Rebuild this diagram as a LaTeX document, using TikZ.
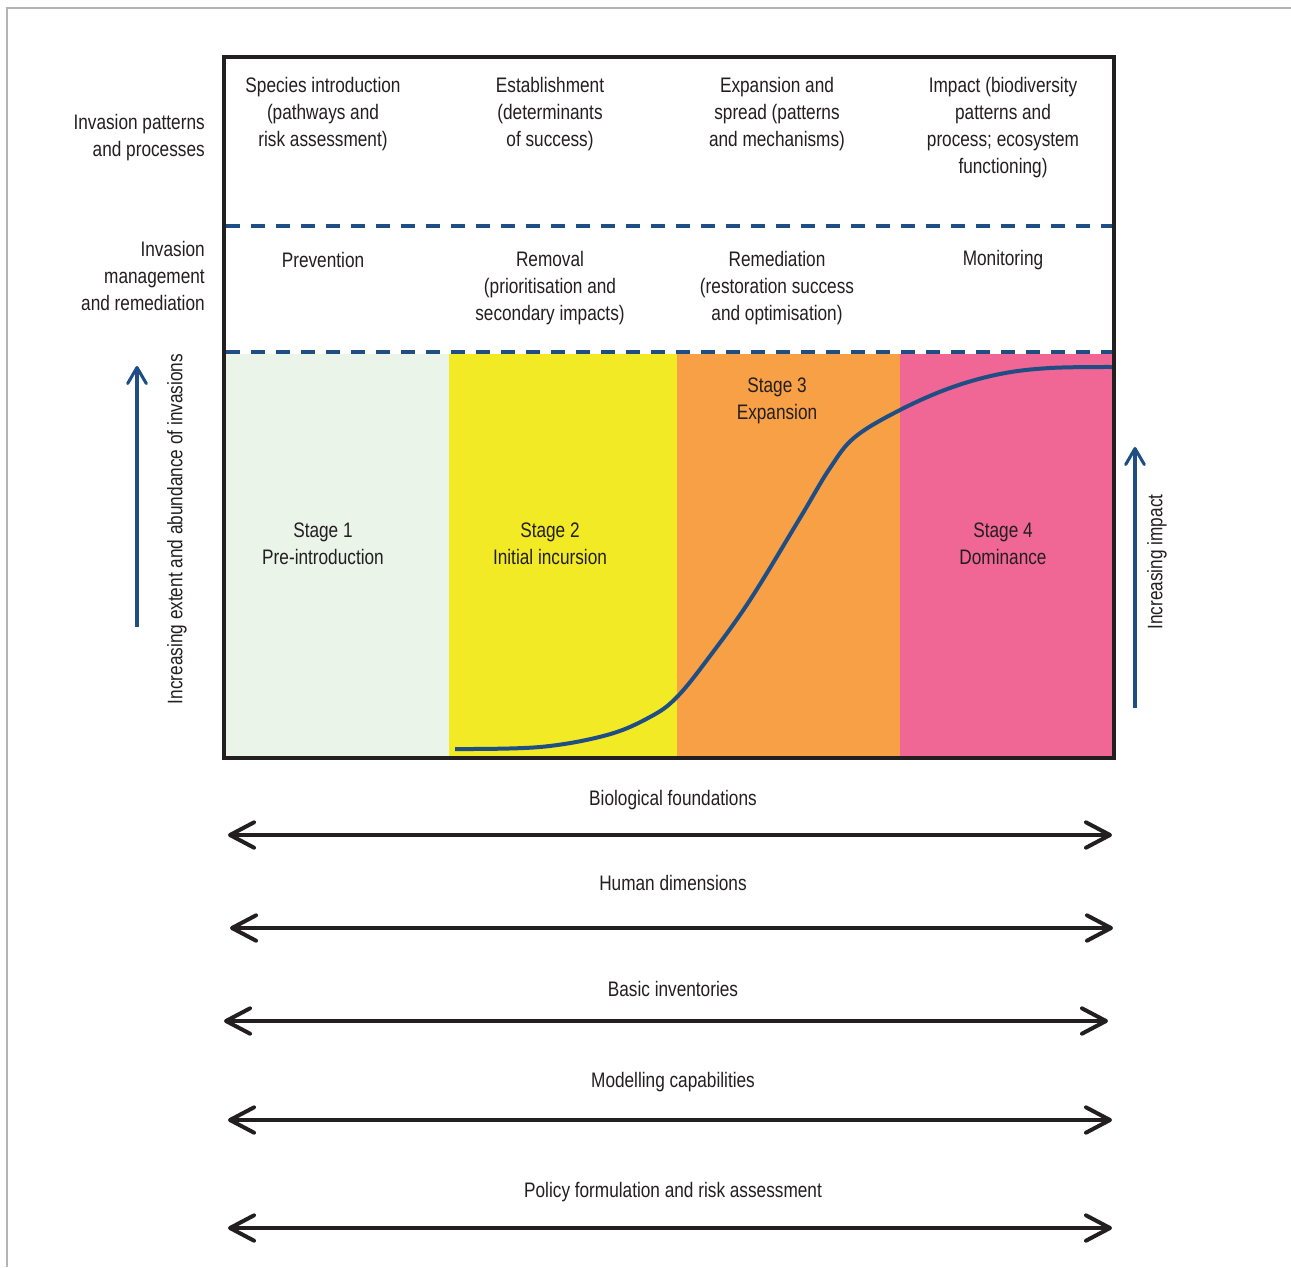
\documentclass[tikz,border=0pt]{standalone}
\usepackage{fontspec}
\setmainfont{Liberation Sans}[FakeStretch=0.82]
\usetikzlibrary{arrows.meta}
\definecolor{ink}{HTML}{231F20}
\definecolor{navy}{HTML}{1F4E85}
\definecolor{sgreen}{HTML}{EAF4E9}
\definecolor{syellow}{HTML}{F2EA25}
\definecolor{sorange}{HTML}{F7A046}
\definecolor{spink}{HTML}{F06694}
\definecolor{framegray}{HTML}{B4B4B4}
\begin{document}
\begin{tikzpicture}[x=0.75pt,y=-0.75pt,
  lbl/.style={text=ink,inner sep=0pt,align=center,font=\fontsize{15.75}{20.25}\selectfont},
  lblr/.style={lbl,align=right,anchor=east},
  dashline/.style={navy,line width=2.6pt,dash pattern=on 10.5pt off 8.25pt},
  dblarrow/.style={ink,line width=3pt,{Straight Barb[length=18pt,width=19pt,line cap=round,line join=round]}-{Straight Barb[length=18pt,width=19pt,line cap=round,line join=round]}},
  uparrow/.style={navy,line width=2.3pt,-{Straight Barb[length=12pt,width=14pt,line cap=round,line join=round]}}]
\useasboundingbox (0,0) rectangle (1291,1267);
\fill[white] (0,0) rectangle (1291,1267);
% outer frame
\draw[framegray,line width=1.2pt] (7,1267) -- (7,8) -- (1291,8);
% bands
\fill[sgreen] (226,354) rectangle (449,756);
\fill[syellow] (449,354) rectangle (677,756);
\fill[sorange] (677,354) rectangle (900,756);
\fill[spink] (900,354) rectangle (1112,756);
% dashed separators
\coordinate (d1a) at (226,226); \coordinate (d1b) at (1112,226);
\coordinate (d2a) at (226,352); \coordinate (d2b) at (1112,352);
\draw[dashline] (d1a) -- (d1b);
\draw[dashline] (d2a) -- (d2b);
% curve
\draw[navy,line width=3pt,line cap=butt] plot[smooth,tension=0.6] coordinates {(455,749) (540,747) (607,735) (650,717) (677,697) (710,656) (750,600) (800,518) (830,468) (855,437) (900,410) (950,388) (1000,374) (1050,368) (1112,367)};
% main box
\draw[ink,line width=3pt] (224,57) rectangle (1114,758);
% row labels
\node[lblr] (rl1) at (205,138) {Invasion patterns\\and processes};
\node[lblr] (rl2) at (205,276) {Invasion\\management\\and remediation};
% top row
\node[lbl] (t1) at (323,114) {Species introduction\\(pathways and\\risk assessment)};
\node[lbl] (t2) at (550,114) {Establishment\\(determinants\\of success)};
\node[lbl] (t3) at (777,114) {Expansion and\\spread (patterns\\and mechanisms)};
\node[lbl] (t4) at (1003,127.5) {Impact (biodiversity\\patterns and\\process; ecosystem\\functioning)};
% second row
\node[lbl] (m1) at (323,260) {Prevention};
\node[lbl] (m2) at (550,288) {Removal\\(prioritisation and\\secondary impacts)};
\node[lbl] (m3) at (777,288) {Remediation\\(restoration success\\and optimisation)};
\node[lbl] (m4) at (1003,260) {Monitoring};
% stages
\node[lbl] (s1) at (323,543.5) {Stage 1\\Pre-introduction};
\node[lbl] (s2) at (550,543.5) {Stage 2\\Initial incursion};
\node[lbl] (s3) at (777,401) {Stage 3\\Expansion};
\node[lbl] (s4) at (1003,543.5) {Stage 4\\Dominance};
% side arrows
\coordinate (la1) at (137,627); \coordinate (la2) at (137,366);
\draw[uparrow] (la1) -- (la2);
\node[lbl,rotate=90] (lt) at (177,529) {Increasing extent and abundance of invasions};
\coordinate (ra1) at (1135,708); \coordinate (ra2) at (1135,447);
\draw[uparrow] (ra1) -- (ra2);
\node[lbl,rotate=90] (rt) at (1157,562) {Increasing impact};
% bottom arrows
\node[lbl] (b1) at (673,800) {Biological foundations};
\coordinate (b1l) at (228,835); \coordinate (b1r) at (1112,835);
\draw[dblarrow] (b1l) -- (b1r);
\node[lbl] (b2) at (673,883) {Human dimensions};
\coordinate (b2l) at (230,928); \coordinate (b2r) at (1113,928);
\draw[dblarrow] (b2l) -- (b2r);
\node[lbl] (b3) at (673,989) {Basic inventories};
\coordinate (b3l) at (224,1021); \coordinate (b3r) at (1108,1021);
\draw[dblarrow] (b3l) -- (b3r);
\node[lbl] (b4) at (673,1082) {Modelling capabilities};
\coordinate (b4l) at (228,1120); \coordinate (b4r) at (1112,1120);
\draw[dblarrow] (b4l) -- (b4r);
\node[lbl] (b5) at (673,1192) {Policy formulation and risk assessment};
\coordinate (b5l) at (228,1228); \coordinate (b5r) at (1112,1228);
\draw[dblarrow] (b5l) -- (b5r);
\end{tikzpicture}
\end{document}
